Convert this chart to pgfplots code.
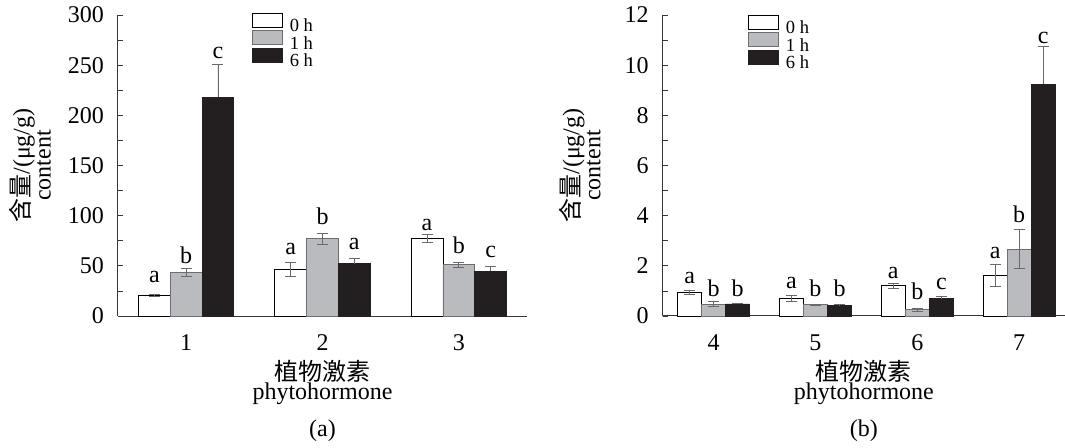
\documentclass[border=0pt]{standalone}
\usepackage{fontspec}
\setmainfont{Liberation Serif}
\newfontfamily\cjk{Noto Sans CJK SC}
\usepackage{pgfplots}
\pgfplotsset{compat=1.18}

\definecolor{bargray}{RGB}{186,187,191}
\definecolor{bargrayedge}{RGB}{110,110,112}
\definecolor{barblack}{RGB}{35,31,32}
\definecolor{errgray}{RGB}{105,105,105}
\definecolor{axgray}{RGB}{55,55,55}

\pgfplotstableread{
x y e
1 20.8 1.0
2 46 7
3 77.5 4
}\Azero
\pgfplotstableread{
x y e
1 43.5 4.3
2 77 5.5
3 51 2.5
}\Aone
\pgfplotstableread{
x y e
1 218 33
2 52 5
3 44.5 5
}\Asix
\pgfplotstableread{
x y e
4 0.94 0.09
5 0.70 0.13
6 1.20 0.11
7 1.62 0.44
}\Bzero
\pgfplotstableread{
x y e
4 0.47 0.10
5 0.45 0.03
6 0.25 0.05
7 2.67 0.79
}\Bone
\pgfplotstableread{
x y e
4 0.48 0.03
5 0.43 0.02
6 0.68 0.10
7 9.24 1.51
}\Bsix

\newcommand{\bigf}{\fontsize{24}{21}\selectfont}
\newcommand{\legf}{\fontsize{18.5}{18.5}\selectfont}

\pgfplotsset{
  base/.style={
    scale only axis,
    clip=false,
    height=301pt,
    ymin=0,
    axis lines=left,
    axis line style={-, axgray, line width=1pt},
    tick align=inside,
    major tick length=5pt,
    minor tick length=5pt,
    xtick style={draw=none},
    ytick style={axgray, line width=0.8pt},
    minor y tick num=1,
    tick label style={font=\bigf},
    /pgf/number format/assume math mode=true,
    yticklabel style={anchor=east, inner sep=0pt, xshift=-14pt},
    xticklabel style={anchor=base, inner sep=0pt, yshift=-29pt},
    ybar=0pt,
    enlarge x limits=false,
    legend cell align=left,
    legend style={draw=none, fill=none, inner sep=0pt, outer sep=0pt,
      font=\legf, row sep=-1.5pt, nodes={inner sep=0pt, text depth=0pt}, anchor=north west},
    legend image code/.code={\draw[#1] (0pt,-2pt) rectangle (30pt,12pt); \path (37pt,0pt);},
  },
  zeroh/.style={fill=white, draw=black, line width=0.9pt},
  oneh/.style={fill=bargray, draw=bargrayedge, line width=0.9pt},
  sixh/.style={fill=barblack, draw=barblack, line width=0.9pt},
  eb/.style={error bars/.cd, y explicit, y dir=#1,
     error bar style={errgray, line width=0.8pt},
     error mark options={errgray, line width=0.8pt, mark size=5.5pt, rotate=90}},
}

\begin{document}
\begin{tikzpicture}
\useasboundingbox (0,0) rectangle (1065pt,447pt);

% ---------------- (a) ----------------
\begin{axis}[base,
  at={(118pt,131pt)}, anchor=south west,
  width=409pt,
  xmin=0.5, xmax=3.5,
  ymax=300,
  ytick={0,50,100,150,200,250,300},
  xtick={1,2,3},
  bar width=0.233,
  legend style={at={(axis description cs:0.3276,1.0066)}},
]
\addplot[zeroh, eb=both] table[x=x, y=y, y error=e] {\Azero};
\addplot[oneh, eb=both] table[x=x, y=y, y error=e] {\Aone};
\addplot[sixh, eb=plus] table[x=x, y=y, y error=e] {\Asix};
\legend{0 h,1 h,6 h}

\begin{scope}[every node/.style={anchor=base, font=\bigf, inner sep=0pt}]
\node at (axis cs:0.767,32.9) {a};
\node at (axis cs:1,52.8) {b};
\node at (axis cs:1.233,257) {c};
\node at (axis cs:1.767,60.8) {a};
\node at (axis cs:2,90.7) {b};
\node at (axis cs:2.233,65.8) {a};
\node at (axis cs:2.767,85.7) {a};
\node at (axis cs:3,61.8) {b};
\node at (axis cs:3.233,58.8) {c};
\end{scope}

\node[rotate=90, align=center, anchor=center, font=\bigf, inner sep=0pt]
  at (axis description cs:-0.215,0.5) {{\cjk 含量}/(μg/g)\\content};
\node[anchor=base, font=\bigf, inner sep=0pt] at (axis description cs:0.5,-0.213) {\cjk 植物激素};
\node[anchor=base, font=\bigf, inner sep=0pt] at (axis description cs:0.5,-0.279) {phytohormone};
\node[anchor=base, font=\bigf, inner sep=0pt] at (axis description cs:0.5,-0.399) {(a)};
\end{axis}

% ---------------- (b) ----------------
\begin{axis}[base,
  at={(662.7pt,131pt)}, anchor=south west,
  width=402.3pt,
  xmin=3.5, xmax=7.45,
  ymax=12,
  ytick={0,2,4,6,8,10,12},
  xtick={4,5,6,7},
  bar width=0.236,
  legend style={at={(axis description cs:0.212,1.0)}},
]
\addplot[zeroh, eb=both] table[x=x, y=y, y error=e] {\Bzero};
\addplot[oneh, eb=both] table[x=x, y=y, y error=e] {\Bone};
\addplot[sixh, eb=plus] table[x=x, y=y, y error=e] {\Bsix};
\legend{0 h,1 h,6 h}

\begin{scope}[every node/.style={anchor=base, font=\bigf, inner sep=0pt}]
\node at (axis cs:3.764,1.30) {a};
\node at (axis cs:4,0.77) {b};
\node at (axis cs:4.236,0.77) {b};
\node at (axis cs:4.764,1.10) {a};
\node at (axis cs:5,0.77) {b};
\node at (axis cs:5.236,0.77) {b};
\node at (axis cs:5.764,1.50) {a};
\node at (axis cs:6,0.64) {b};
\node at (axis cs:6.236,1.04) {c};
\node at (axis cs:6.764,2.30) {a};
\node at (axis cs:7,3.72) {b};
\node at (axis cs:7.236,10.87) {c};
\end{scope}

\node[rotate=90, align=center, anchor=center, font=\bigf, inner sep=0pt]
  at (axis description cs:-0.206,0.5) {{\cjk 含量}/(μg/g)\\content};
\node[anchor=base, font=\bigf, inner sep=0pt] at (axis description cs:0.5,-0.213) {\cjk 植物激素};
\node[anchor=base, font=\bigf, inner sep=0pt] at (axis description cs:0.5,-0.279) {phytohormone};
\node[anchor=base, font=\bigf, inner sep=0pt] at (axis description cs:0.5,-0.399) {(b)};
\end{axis}
\end{tikzpicture}
\end{document}
